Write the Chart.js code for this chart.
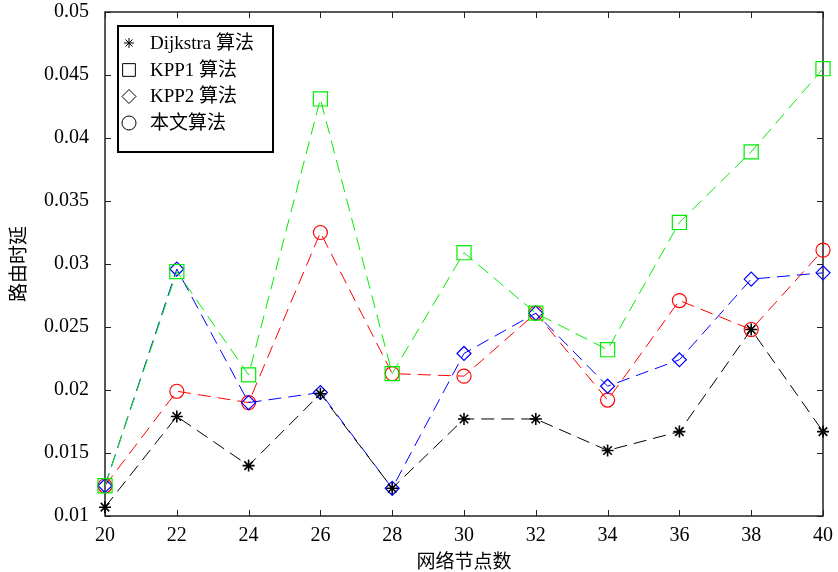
<!DOCTYPE html>
<html>
<head>
<meta charset="utf-8">
<script src="https://cdn.jsdelivr.net/npm/chart.js@4"></script>
<style>
  body { margin: 0; background: #fff; }
</style>
</head>
<body>
<canvas id="chart" width="838" height="572"></canvas>
<script>
// Data
const nodes = [20, 22, 24, 26, 28, 30, 32, 34, 36, 38, 40];
const dijkstra = [0.0107, 0.0179, 0.0140, 0.0197, 0.0122, 0.0177, 0.0177, 0.0152, 0.0167, 0.0248, 0.0167];
const kpp1     = [0.0124, 0.0294, 0.0212, 0.0431, 0.0213, 0.0309, 0.0261, 0.0232, 0.0333, 0.0389, 0.0455];
const kpp2     = [0.0124, 0.0296, 0.0190, 0.0198, 0.0122, 0.0229, 0.0261, 0.0203, 0.0224, 0.0288, 0.0293];
const ours     = [0.0124, 0.0199, 0.0190, 0.0325, 0.0213, 0.0211, 0.0261, 0.0192, 0.0271, 0.0248, 0.0311];

const labels = ['Dijkstra 算法', 'KPP1 算法', 'KPP2 算法', '本文算法'];
const xTitle = '网络节点数';
const yTitle = '路由时延';

const serif = "'Liberation Serif', 'Noto Sans CJK SC', serif";

function series(label, values, color, style, radius) {
    return {
        label: label,
        data: values.map((v, i) => ({ x: nodes[i], y: v })),
        borderColor: color,
        borderWidth: 1,
        borderDash: [13, 7],
        pointStyle: style,
        pointRadius: radius,
        pointBorderColor: color,
        pointBackgroundColor: 'rgba(0,0,0,0)',
        pointBorderWidth: style === 'star' ? 1.6 : 1.2,
        tension: 0,
        clip: false
    };
}

// box around the plot with inward ticks on all four sides
const frame = {
    id: 'frame',
    beforeDatasetsDraw(chart) {
        const ctx = chart.ctx;
        const a = chart.chartArea;
        const xs = chart.scales.x, ys = chart.scales.y;
        ctx.save();
        ctx.strokeStyle = '#222';
        ctx.lineWidth = 1.5;
        ctx.strokeRect(a.left, a.top, a.right - a.left, a.bottom - a.top);
        ctx.lineWidth = 1;
        ctx.beginPath();
        xs.ticks.forEach(t => {
            const px = Math.round(xs.getPixelForValue(t.value)) + 0.5;
            ctx.moveTo(px, a.bottom); ctx.lineTo(px, a.bottom - 6);
            ctx.moveTo(px, a.top); ctx.lineTo(px, a.top + 6);
        });
        ys.ticks.forEach(t => {
            const py = Math.round(ys.getPixelForValue(t.value)) + 0.5;
            ctx.moveTo(a.left, py); ctx.lineTo(a.left + 6, py);
            ctx.moveTo(a.right, py); ctx.lineTo(a.right - 6, py);
        });
        ctx.stroke();
        ctx.restore();
    }
};

// legend box inside the plot, black open symbols like the original
const boxLegend = {
    id: 'boxLegend',
    afterDraw(chart) {
        const ctx = chart.ctx;
        ctx.save();
        ctx.fillStyle = '#fff';
        ctx.fillRect(118, 26, 155, 126);
        ctx.strokeStyle = '#000';
        ctx.lineWidth = 2;
        ctx.strokeRect(118, 26, 155, 126);
        ctx.font = "19px " + serif;
        ctx.textBaseline = 'middle';
        const rows = [43, 70, 96.5, 123];
        chart.data.datasets.forEach((ds, i) => {
            ctx.strokeStyle = '#000';
            ctx.fillStyle = 'rgba(0,0,0,0)';
            ctx.lineWidth = 1;
            Chart.helpers.drawPoint(ctx, {
                pointStyle: ds.pointStyle,
                radius: ds.pointStyle === 'star' ? 5 : (ds.pointStyle === 'rect' ? 9 : 7),
                borderWidth: 1
            }, 129, rows[i]);
            ctx.fillStyle = '#000';
            ctx.fillText(ds.label, 150, rows[i] + 1);
        });
        ctx.restore();
    }
};

new Chart(document.getElementById('chart'), {
    type: 'line',
    data: {
        datasets: [
            series(labels[0], dijkstra, '#000000', 'star', 6),
            series(labels[1], kpp1, '#00ee00', 'rect', 10),
            series(labels[2], kpp2, '#0000ff', 'rectRot', 7),
            series(labels[3], ours, '#ff0000', 'circle', 7)
        ]
    },
    options: {
        responsive: false,
        animation: false,
        layout: { padding: { top: 12, right: 15, left: 0, bottom: 0 } },
        plugins: {
            legend: { display: false },
            tooltip: { enabled: false }
        },
        scales: {
            x: {
                type: 'linear',
                min: 20,
                max: 40,
                afterFit: s => { s.height = 56; s.paddingLeft = 0; s.paddingRight = 0; },
                grid: { display: false, drawTicks: false },
                border: { display: false },
                ticks: {
                    stepSize: 2,
                    padding: 8,
                    color: '#000',
                    font: { family: serif, size: 20 }
                },
                title: {
                    display: true,
                    text: xTitle,
                    color: '#000',
                    padding: 0,
                    font: { family: "'Noto Sans CJK SC'", size: 19 }
                }
            },
            y: {
                min: 0.01,
                max: 0.05,
                afterFit: s => { s.width = 105; s.paddingTop = 0; s.paddingBottom = 0; },
                grid: { display: false, drawTicks: false },
                border: { display: false },
                ticks: {
                    stepSize: 0.005,
                    padding: 16,
                    color: '#000',
                    font: { family: serif, size: 20 },
                    callback: v => String(parseFloat(v.toFixed(3)))
                },
                title: {
                    display: true,
                    text: yTitle,
                    color: '#000',
                    padding: { top: 6, bottom: 0 },
                    font: { family: "'Noto Sans CJK SC'", size: 19 }
                }
            }
        }
    },
    plugins: [frame, boxLegend]
});
</script>
</body>
</html>
